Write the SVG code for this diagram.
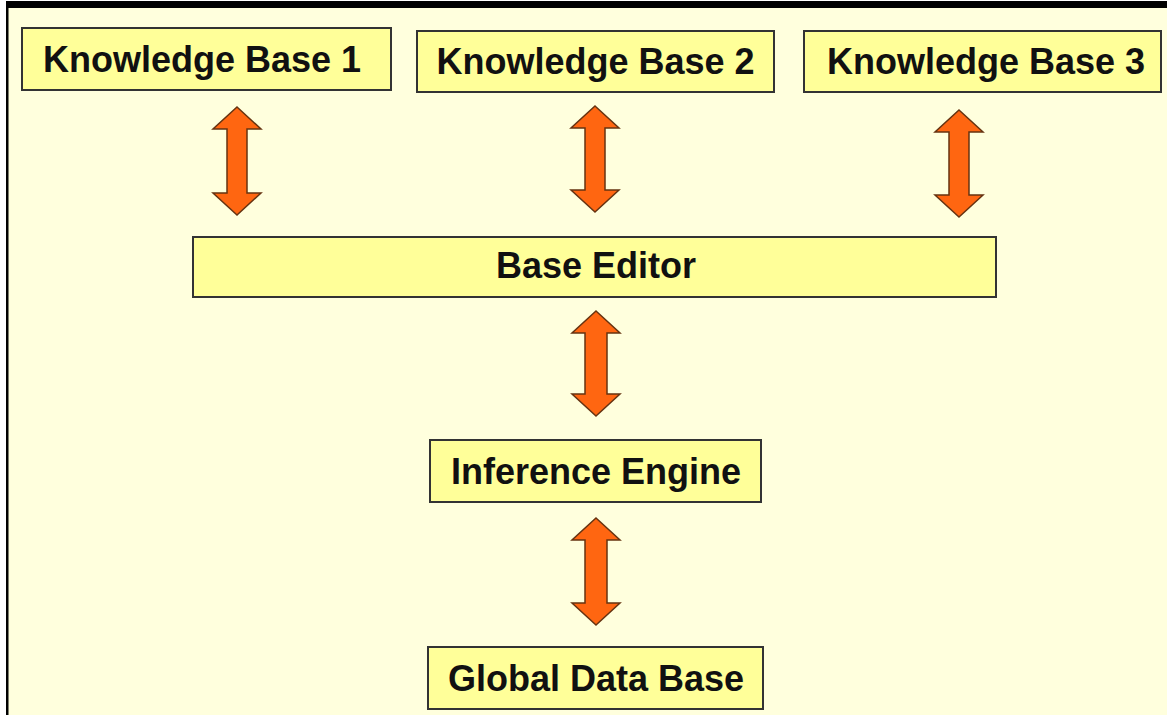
<svg xmlns="http://www.w3.org/2000/svg" width="1167" height="715" viewBox="0 0 1167 715">
<style>
.box{fill:#FFFF99;stroke:#333333;stroke-width:2}
.lbl{font-family:"Liberation Sans",Arial,sans-serif;font-weight:bold;font-size:36px;fill:#111111;text-anchor:middle}
.arr{fill:#FF6611;stroke:#663311;stroke-width:1.5;stroke-linejoin:miter}
</style>
<rect x="0" y="0" width="1167" height="715" fill="#FFFFFF"/>
<rect x="7" y="5" width="1160" height="710" fill="#FFFFDD"/>
<rect x="6" y="1" width="1161" height="7" fill="#000000"/>
<rect x="6" y="1" width="2.5" height="714" fill="#000000"/>
<g id="connectors">
<path class="arr" d="M237,107 L261,129 L247,129 L247,193 L261,193 L237,215 L213,193 L227,193 L227,129 L213,129 Z"/>
<path class="arr" d="M595,106 L619,128 L605,128 L605,190 L619,190 L595,212 L571,190 L585,190 L585,128 L571,128 Z"/>
<path class="arr" d="M959,110 L983,132 L969,132 L969,195 L983,195 L959,217 L935,195 L949,195 L949,132 L935,132 Z"/>
<path class="arr" d="M596,311 L620,333 L607,333 L607,394 L620,394 L596,416 L572,394 L585,394 L585,333 L572,333 Z"/>
<path class="arr" d="M596,518 L620,540 L607,540 L607,603 L620,603 L596,625 L572,603 L585,603 L585,540 L572,540 Z"/>
</g>
<g id="kb1">
<rect class="box" x="22" y="28" width="369" height="62"/>
<text class="lbl" x="202" y="72">Knowledge Base 1</text>
</g>
<g id="kb2">
<rect class="box" x="417" y="31" width="357" height="61"/>
<text class="lbl" x="595.5" y="74">Knowledge Base 2</text>
</g>
<g id="kb3">
<rect class="box" x="804" y="31" width="357" height="61"/>
<text class="lbl" x="986" y="74">Knowledge Base 3</text>
</g>
<g id="base-editor">
<rect class="box" x="193" y="237" width="803" height="60"/>
<text class="lbl" x="596" y="278">Base Editor</text>
</g>
<g id="inference-engine">
<rect class="box" x="430" y="440" width="331" height="62"/>
<text class="lbl" x="596" y="484">Inference Engine</text>
</g>
<g id="global-data-base">
<rect class="box" x="428" y="647" width="335" height="62"/>
<text class="lbl" x="596" y="691">Global Data Base</text>
</g>
</svg>
